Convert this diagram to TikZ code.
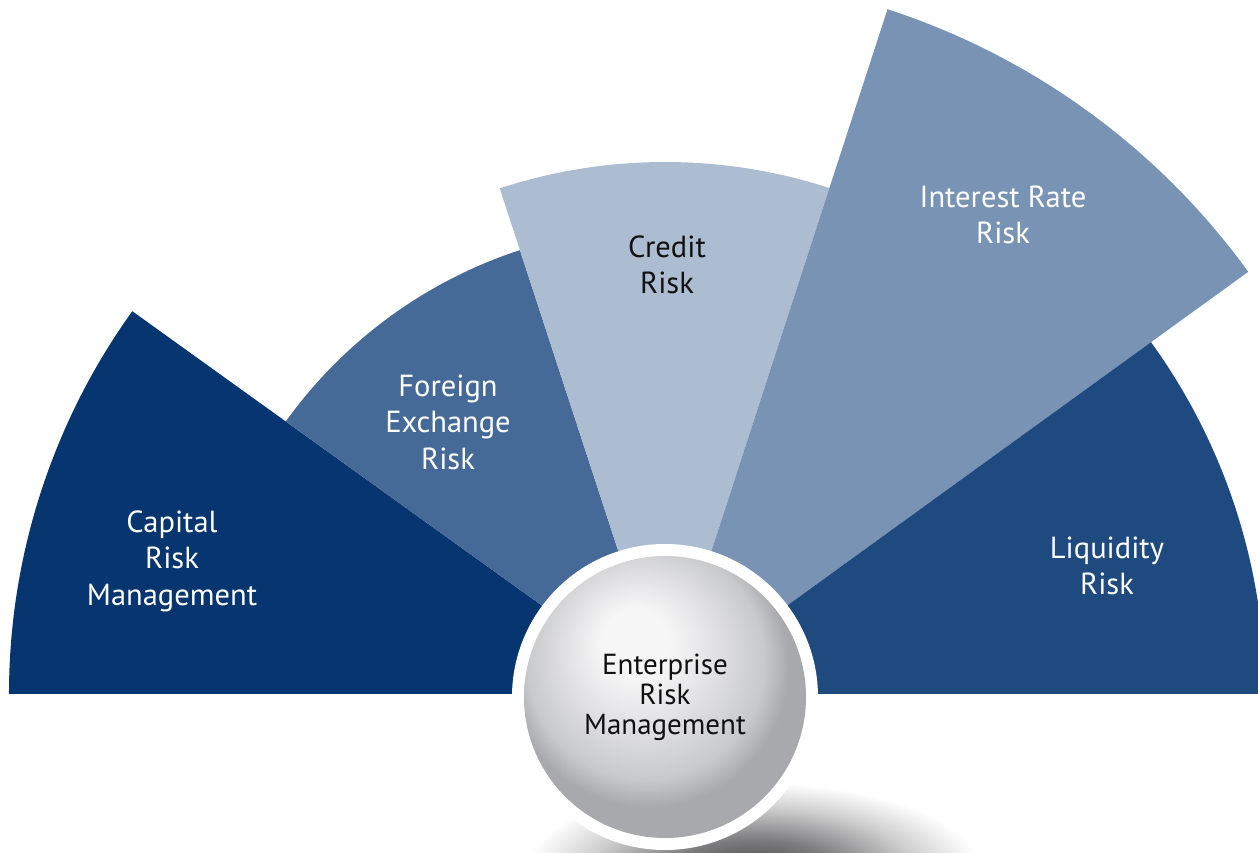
\documentclass[tikz,border=0pt]{standalone}
\usepackage{fontspec}
\setmainfont{PT Sans}

% sector colours
\definecolor{capitalblue}{HTML}{06356F}
\definecolor{fxblue}{HTML}{466A98}
\definecolor{creditblue}{HTML}{ADBDD1}
\definecolor{rateblue}{HTML}{7993B4}
\definecolor{liquidblue}{HTML}{1F4A80}
\definecolor{darktext}{HTML}{111111}

% sphere and shadow colours
\definecolor{sphhi}{HTML}{F6F6F7}
\definecolor{sphmid}{HTML}{E2E2E4}
\definecolor{sphlow}{HTML}{C8C9CB}
\definecolor{sphedge}{HTML}{A8A9AC}
\definecolor{shadowcore}{HTML}{464648}
\definecolor{shadowmid}{HTML}{7C7C7E}
\definecolor{shadowlight}{HTML}{CFCFD0}

% glossy ball with an off-centre highlight (upper left)
\pgfdeclareradialshading{ermsphere}{\pgfpoint{-6bp}{11bp}}{%
  color(0bp)=(sphhi); color(6bp)=(sphhi); color(13bp)=(sphmid);
  color(21bp)=(sphlow); color(25bp)=(sphedge); color(50bp)=(sphedge)}

% soft cast shadow under the ball
\pgfdeclareradialshading{ermshadow}{\pgfpoint{0bp}{0bp}}{%
  color(0bp)=(shadowcore); color(9bp)=(shadowmid);
  color(18bp)=(shadowlight); color(25bp)=(white); color(50bp)=(white)}

\tikzset{
  sectorlabel/.style={align=center, text=white, inner sep=0pt,
    font=\fontsize{30.5}{36.5}\selectfont},
  darklabel/.style={sectorlabel, text=darktext},
}

\begin{document}
\begin{tikzpicture}[x=1pt, y=1pt]
  % canvas: origin is the common centre of the fan, on its baseline
  \useasboundingbox (-665,-159) rectangle (593,694);
  \clip (-665,-159) rectangle (593,694);

  % shadow below the ball
  \shade[shading=ermshadow] (88,-178) ellipse [x radius=228, y radius=90];

  % the five risk sectors, 36 degrees each, different radii
  \fill[capitalblue] (0,0) -- (180:656) arc[start angle=180, end angle=144.3, radius=656] -- cycle;
  \fill[fxblue]      (0,0) -- (144.3:467) arc[start angle=144.3, end angle=108.1, radius=467] -- cycle;
  \fill[creditblue]  (0,0) -- (108.1:532) arc[start angle=108.1, end angle=72, radius=532] -- cycle;
  \fill[rateblue]    (0,0) -- (72:720) arc[start angle=72, end angle=35.9, radius=720] -- cycle;
  \fill[liquidblue]  (0,0) -- (35.9:600) arc[start angle=35.9, end angle=0, radius=600] -- cycle;

  % sector labels
  \node[sectorlabel] (capital)  at (-493,133)  {Capital\\Risk\\Management};
  \node[sectorlabel] (fx)       at (-217,272)  {Foreign\\Exchange\\Risk};
  \node[darklabel]   (credit)   at (2,429)     {Credit\\Risk};
  \node[sectorlabel] (rate)     at (338,479)   {Interest Rate\\Risk};
  \node[sectorlabel] (liquid)   at (442,128)   {Liquidity\\Risk};

  % central ball with its white rim
  \coordinate (hub) at (0,-3);
  \fill[white] (hub) circle (153);
  \node[circle, minimum size=282, inner sep=0pt, shading=ermsphere,
        align=center, text=darktext,
        font=\fontsize{29}{30}\selectfont] (erm) at (hub)
        {Enterprise\\Risk\\Management};
\end{tikzpicture}
\end{document}
